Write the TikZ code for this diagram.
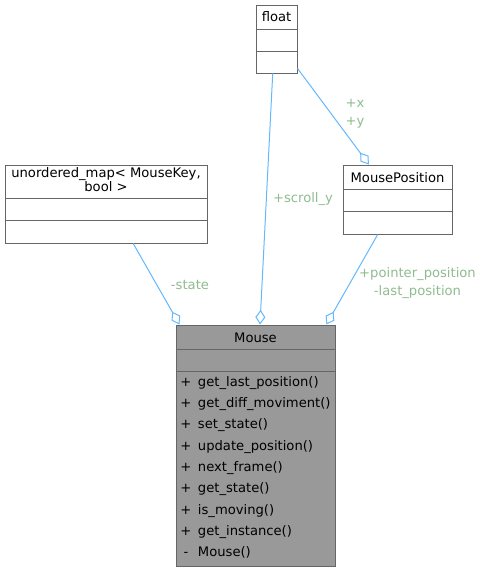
\documentclass[tikz,border=0pt]{standalone}
\usepackage{fontspec}
\setmainfont{DejaVu Sans}
\usetikzlibrary{arrows.meta,calc}
\definecolor{bordergray}{HTML}{666666}
\definecolor{mousefill}{HTML}{999999}
\definecolor{edgeblue}{HTML}{63B8FF}
\definecolor{lblgreen}{HTML}{8FBC8F}
\begin{document}
\begin{tikzpicture}[x=0.75pt,y=-0.75pt,
  font=\fontsize{9.85}{10.5}\selectfont,
  classbox/.style={draw=bordergray, line width=0.75pt, fill=white, inner sep=0pt},
  divline/.style={draw=bordergray, line width=0.75pt},
  agg/.style={draw=edgeblue, line width=0.75pt, -{Diamond[open, length=11pt, width=7.5pt, line width=0.75pt]}},
  lbl/.style={text=lblgreen, align=center, inner sep=0pt, font=\fontsize{9.85}{13.5}\selectfont},
  ttl/.style={inner sep=0pt, align=center}]
\useasboundingbox (0,0) rectangle (481,571);

% float
\node[classbox, minimum width=30.75pt, minimum height=51pt] (float) at (276.5,39) {};
\draw[divline] (256,29) -- (297,29);
\draw[divline] (256,51) -- (297,51);
\node[ttl] (floatT) at (276.5,17) {float};

% unordered_map
\node[classbox, minimum width=151.5pt, minimum height=58.5pt] (umap) at (106,204) {};
\draw[divline] (5,198) -- (207,198);
\draw[divline] (5,220) -- (207,220);
\node[ttl] (umapT) at (106,179.5) {unordered\_map< MouseKey,\\bool >};

% MousePosition
\node[classbox, minimum width=81.75pt, minimum height=51.75pt] (mpos) at (397.5,199.5) {};
\draw[divline] (343,189) -- (452,189);
\draw[divline] (343,211) -- (452,211);
\node[ttl] (mposT) at (397.5,178) {MousePosition};

% Mouse
\node[classbox, fill=mousefill, minimum width=119.25pt, minimum height=180.75pt] (mouse) at (255.5,445.5) {};
\draw[divline] (176,349) -- (335,349);
\draw[divline] (176,371) -- (335,371);
\node[ttl] (mouseT) at (255.5,338) {Mouse};
\foreach \s/\m/\yy in {+/get\_last\_position()/381.7, +/get\_diff\_moviment()/402.3, +/set\_state()/423.6, +/update\_position()/445, +/next\_frame()/466.3, +/get\_state()/487.7, +/is\_moving()/509, +/get\_instance()/530.3, -/Mouse()/551.7} {
  \node[anchor=base, inner sep=0pt] at (186,\yy+5) {\s};
  \node[anchor=base west, inner sep=0pt] at (197.7,\yy+5) {\m};
}

% connectors
\draw[agg] ($(umap.south west)!0.634!(umap.south east)$) -- ($(mouse.north west)!0.025!(mouse.north east)$);
\draw[agg] ($(float.south west)!0.41!(float.south east)$) -- ($(mouse.north west)!0.528!(mouse.north east)$);
\draw[agg] ($(mpos.south west)!0.32!(mpos.south east)$) -- ($(mouse.north west)!0.943!(mouse.north east)$);
\draw[agg] ($(float.north east)!0.926!(float.south east)$) -- ($(mpos.north west)!0.24!(mpos.north east)$);

% labels
\node[lbl] (l1) at (190,285) {-state};
\node[lbl] (l2) at (303,199) {+scroll\_y};
\node[lbl] (l3) at (355,114) {+x\\+y};
\node[lbl] (l4) at (417.5,283) {+pointer\_position\\-last\_position};
\end{tikzpicture}
\end{document}
